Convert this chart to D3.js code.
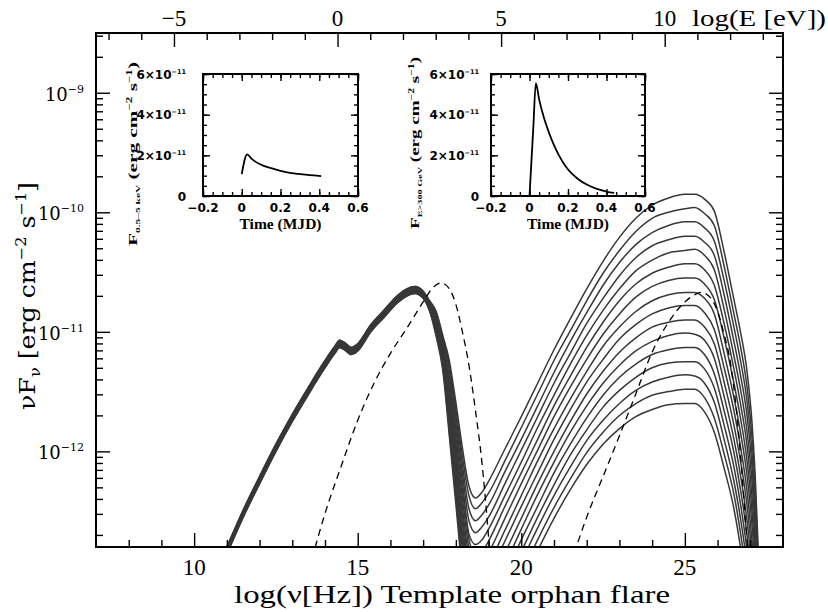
<!DOCTYPE html>
<html><head><meta charset="utf-8">
<script src="https://cdn.jsdelivr.net/npm/d3@7"></script>
<style>body{margin:0;background:#fff}svg{display:block}</style>
</head><body>
<svg id="c" width="828" height="612"></svg>
<script>
// ---------------- data ----------------
// shared log10(nu/Hz) grid for the 16 SED snapshots
const logNu = [11.0,11.5,12.0,12.5,13.0,13.5,14.0,14.3,14.45,14.6,14.8,15.0,15.4,15.8,16.2,16.5,16.75,17.0,
  17.2,17.4,17.6,17.8,18.0,18.2,18.4,18.6,18.8,19.0,
  19.5,20.0,20.5,21.0,21.5,22.0,22.5,23.0,23.5,24.0,24.5,25.0,25.3,25.6,25.9,26.2,26.5,26.7,26.9,27.05,27.15,27.3];
// log10(nuF_nu) of each snapshot (erg cm^-2 s^-1), brightest IC first
const sedFlux = [
 [-12.80,-12.49,-12.21,-11.94,-11.69,-11.46,-11.24,-11.12,-11.07,-11.09,-11.13,-11.10,-10.94,-10.82,-10.70,-10.64,-10.62,-10.66,
  -10.74,-10.83,-11.03,-11.24,-11.59,-11.97,-12.29,-12.39,-12.34,-12.25,
  -11.98,-11.71,-11.43,-11.15,-10.89,-10.64,-10.41,-10.21,-10.05,-9.94,-9.88,-9.85,-9.85,-9.89,-9.99,-10.33,-10.73,-11.00,-11.33,-11.75,-12.20,-13.20],
 [-12.80,-12.49,-12.21,-11.94,-11.69,-11.46,-11.24,-11.12,-11.07,-11.09,-11.13,-11.10,-10.94,-10.82,-10.70,-10.64,-10.62,-10.66,
  -10.75,-10.84,-11.05,-11.28,-11.65,-12.04,-12.37,-12.48,-12.43,-12.35,
  -12.08,-11.80,-11.52,-11.24,-10.99,-10.74,-10.51,-10.32,-10.16,-10.05,-10.00,-9.97,-9.96,-10.01,-10.11,-10.45,-10.85,-11.12,-11.46,-11.87,-12.31,-13.28],
 [-12.81,-12.50,-12.22,-11.95,-11.70,-11.47,-11.25,-11.13,-11.08,-11.10,-11.14,-11.11,-10.95,-10.83,-10.71,-10.65,-10.63,-10.67,
  -10.75,-10.86,-11.07,-11.32,-11.70,-12.11,-12.48,-12.58,-12.53,-12.45,
  -12.17,-11.90,-11.62,-11.34,-11.08,-10.84,-10.61,-10.42,-10.27,-10.17,-10.11,-10.08,-10.08,-10.13,-10.24,-10.57,-10.96,-11.24,-11.58,-12.00,-12.43,-13.36],
 [-12.81,-12.50,-12.22,-11.95,-11.70,-11.47,-11.25,-11.13,-11.08,-11.10,-11.14,-11.11,-10.95,-10.83,-10.71,-10.65,-10.63,-10.67,
  -10.76,-10.87,-11.09,-11.37,-11.76,-12.18,-12.58,-12.68,-12.63,-12.55,
  -12.27,-11.99,-11.71,-11.43,-11.18,-10.93,-10.72,-10.53,-10.38,-10.28,-10.23,-10.20,-10.20,-10.25,-10.36,-10.69,-11.08,-11.36,-11.70,-12.12,-12.54,-13.44],
 [-12.82,-12.51,-12.23,-11.96,-11.71,-11.48,-11.26,-11.14,-11.09,-11.11,-11.15,-11.12,-10.96,-10.84,-10.72,-10.66,-10.64,-10.68,
  -10.76,-10.89,-11.11,-11.41,-11.81,-12.26,-12.69,-12.78,-12.74,-12.65,
  -12.37,-12.09,-11.80,-11.53,-11.27,-11.03,-10.82,-10.64,-10.49,-10.40,-10.34,-10.32,-10.31,-10.36,-10.48,-10.81,-11.20,-11.48,-11.83,-12.24,-12.65,-13.52],
 [-12.82,-12.51,-12.23,-11.96,-11.71,-11.48,-11.26,-11.14,-11.09,-11.11,-11.15,-11.12,-10.96,-10.84,-10.72,-10.66,-10.64,-10.68,
  -10.77,-10.90,-11.13,-11.45,-11.88,-12.32,-12.73,-12.88,-12.84,-12.75,
  -12.46,-12.18,-11.90,-11.62,-11.37,-11.13,-10.92,-10.74,-10.60,-10.51,-10.46,-10.43,-10.43,-10.48,-10.61,-10.93,-11.31,-11.60,-11.95,-12.37,-12.77,-13.60],
 [-12.82,-12.51,-12.23,-11.96,-11.71,-11.48,-11.26,-11.14,-11.09,-11.11,-11.15,-11.12,-10.96,-10.84,-10.72,-10.66,-10.64,-10.68,
  -10.78,-10.91,-11.15,-11.49,-11.94,-12.39,-12.81,-12.98,-12.94,-12.85,
  -12.56,-12.27,-11.99,-11.71,-11.46,-11.23,-11.02,-10.85,-10.71,-10.62,-10.57,-10.55,-10.55,-10.60,-10.73,-11.05,-11.43,-11.72,-12.08,-12.49,-12.88,-13.68],
 [-12.83,-12.52,-12.24,-11.97,-11.72,-11.49,-11.27,-11.15,-11.10,-11.12,-11.16,-11.13,-10.97,-10.85,-10.73,-10.67,-10.65,-10.69,
  -10.78,-10.93,-11.17,-11.53,-11.99,-12.47,-12.89,-13.07,-13.05,-12.95,
  -12.66,-12.37,-12.08,-11.81,-11.56,-11.33,-11.12,-10.96,-10.83,-10.74,-10.69,-10.67,-10.67,-10.72,-10.85,-11.18,-11.55,-11.84,-12.20,-12.61,-12.99,-13.76],
 [-12.83,-12.52,-12.24,-11.97,-11.72,-11.49,-11.27,-11.15,-11.10,-11.12,-11.16,-11.13,-10.97,-10.85,-10.73,-10.67,-10.65,-10.69,
  -10.79,-10.94,-11.19,-11.58,-12.05,-12.53,-12.98,-13.17,-13.15,-13.05,
  -12.75,-12.46,-12.18,-11.90,-11.65,-11.42,-11.23,-11.06,-10.94,-10.85,-10.80,-10.78,-10.78,-10.84,-10.98,-11.30,-11.66,-11.96,-12.33,-12.74,-13.11,-13.84],
 [-12.84,-12.53,-12.25,-11.98,-11.73,-11.50,-11.28,-11.16,-11.11,-11.13,-11.17,-11.14,-10.98,-10.86,-10.74,-10.68,-10.66,-10.70,
  -10.79,-10.96,-11.20,-11.62,-12.10,-12.60,-13.06,-13.27,-13.25,-13.15,
  -12.85,-12.56,-12.27,-12.00,-11.75,-11.52,-11.33,-11.17,-11.05,-10.96,-10.92,-10.90,-10.90,-10.96,-11.10,-11.42,-11.78,-12.08,-12.45,-12.86,-13.22,-13.92],
 [-12.84,-12.53,-12.25,-11.98,-11.73,-11.50,-11.28,-11.16,-11.11,-11.13,-11.17,-11.14,-10.98,-10.86,-10.74,-10.68,-10.66,-10.70,
  -10.80,-10.97,-11.22,-11.66,-12.16,-12.68,-13.14,-13.37,-13.35,-13.25,
  -12.95,-12.65,-12.36,-12.09,-11.84,-11.62,-11.43,-11.28,-11.16,-11.08,-11.03,-11.01,-11.02,-11.07,-11.22,-11.54,-11.90,-12.20,-12.58,-12.98,-13.33,-14.00],
 [-12.84,-12.53,-12.25,-11.98,-11.73,-11.50,-11.28,-11.16,-11.11,-11.13,-11.17,-11.14,-10.98,-10.86,-10.74,-10.68,-10.66,-10.70,
  -10.81,-10.98,-11.24,-11.70,-12.22,-12.74,-13.23,-13.47,-13.45,-13.35,
  -13.04,-12.74,-12.46,-12.18,-11.94,-11.72,-11.53,-11.38,-11.27,-11.19,-11.15,-11.13,-11.13,-11.19,-11.35,-11.66,-12.01,-12.32,-12.70,-13.11,-13.45,-14.10],
 [-12.85,-12.54,-12.26,-11.99,-11.74,-11.51,-11.29,-11.17,-11.12,-11.14,-11.18,-11.15,-10.99,-10.87,-10.75,-10.69,-10.67,-10.71,
  -10.81,-11.00,-11.26,-11.74,-12.27,-12.82,-13.31,-13.58,-13.56,-13.45,
  -13.14,-12.84,-12.55,-12.28,-12.03,-11.82,-11.63,-11.49,-11.38,-11.30,-11.26,-11.25,-11.25,-11.31,-11.47,-11.78,-12.13,-12.44,-12.83,-13.23,-13.56,-14.16],
 [-12.85,-12.54,-12.26,-11.99,-11.74,-11.51,-11.29,-11.17,-11.12,-11.14,-11.18,-11.15,-10.99,-10.87,-10.75,-10.69,-10.67,-10.71,
  -10.82,-11.01,-11.28,-11.79,-12.33,-12.90,-13.39,-13.68,-13.66,-13.55,
  -13.24,-12.93,-12.64,-12.37,-12.13,-11.91,-11.74,-11.60,-11.49,-11.42,-11.38,-11.36,-11.37,-11.43,-11.59,-11.90,-12.25,-12.56,-12.95,-13.35,-13.67,-14.24],
 [-12.86,-12.55,-12.27,-12.00,-11.75,-11.52,-11.30,-11.18,-11.13,-11.15,-11.19,-11.16,-11.00,-10.88,-10.76,-10.70,-10.68,-10.72,
  -10.82,-11.03,-11.30,-11.83,-12.39,-12.96,-13.48,-13.80,-13.76,-13.65,
  -13.33,-13.03,-12.74,-12.47,-12.23,-12.01,-11.84,-11.70,-11.60,-11.53,-11.50,-11.48,-11.48,-11.55,-11.72,-12.02,-12.36,-12.68,-13.08,-13.48,-13.79,-14.32],
 [-12.86,-12.55,-12.27,-12.00,-11.75,-11.52,-11.30,-11.18,-11.13,-11.15,-11.19,-11.16,-11.00,-10.88,-10.76,-10.70,-10.68,-10.72,
  -10.83,-11.04,-11.32,-11.87,-12.44,-13.03,-13.55,-13.90,-13.86,-13.75,
  -13.43,-13.12,-12.83,-12.56,-12.32,-12.11,-11.94,-11.81,-11.71,-11.65,-11.61,-11.60,-11.60,-11.67,-11.84,-12.14,-12.48,-12.80,-13.20,-13.60,-13.90,-14.40]
];
// dashed reference SED (quiescent state)
const dashSyncNu   = [13.6,14.0,14.5,15.0,15.5,16.0,16.5,17.0,17.3,17.55,17.8,18.0,18.2,18.4,18.6,18.8,18.95,19.05];
const dashSyncFlux = [-12.9,-12.52,-12.12,-11.74,-11.43,-11.18,-10.97,-10.75,-10.63,-10.59,-10.64,-10.77,-11.0,-11.28,-11.66,-12.1,-12.55,-12.9];
const dashIcNu     = [21.5,22.0,22.5,23.0,23.5,24.0,24.5,25.0,25.3,25.5,25.8,26.0,26.2,26.4,26.6,26.75,26.9,27.0];
const dashIcFlux   = [-12.95,-12.55,-12.21,-11.87,-11.52,-11.17,-10.92,-10.75,-10.69,-10.67,-10.72,-10.83,-11.02,-11.27,-11.72,-12.2,-12.75,-13.1];
// light curves (flux in units of 1e-11 erg cm^-2 s^-1)
const xrayTime = [0,0.028,0.05,0.07,0.113,0.156,0.2,0.242,0.29,0.328,0.37,0.41];
const xrayFlux = [1.08,2.05,1.84,1.69,1.48,1.36,1.24,1.15,1.09,1.05,1.01,0.98];
const vheTime  = [0,0.01,0.02,0.033,0.05,0.075,0.1,0.125,0.15,0.2,0.25,0.3,0.35,0.4,0.44];
const vheFlux  = [0,1.7,3.4,5.55,4.75,3.85,3.15,2.55,2.05,1.3,0.85,0.55,0.35,0.22,0.15];
// tick labels
const xTickVals = [10,15,20,25], xTickLabels = ['10','15','20','25'];
const eTickVals = [-5,0,5,10],   eTickLabels = ['\u22125','0','5','10'];
const yTickExps = [-12,-11,-10,-9], yTickLabels = ['\u221212','\u221211','\u221210','\u22129'];
const insetXTicks = [-0.2,0,0.2,0.4,0.6], insetXLabels = ['\u22120.2','0','0.2','0.4','0.6'];
const insetYTicks = [0,2,4,6], insetYLabels = ['0','2','4','6'];
const LOG_H_EV = 14.3834; // log10(nu/Hz) - log10(E/eV)

// ---------------- drawing ----------------
const svg = d3.select('#c');
const L=96, R=783, T=33, B=547;
const x = d3.scaleLinear().domain([7,28]).range([L,R]);
const xE = d3.scaleLinear().domain([7-LOG_H_EV, 28-LOG_H_EV]).range([L,R]);
const y = d3.scaleLog().domain([Math.pow(10,-12.8), Math.pow(10,-8.5)]).range([B,T]);

svg.append('defs').append('clipPath').attr('id','plotclip')
  .append('rect').attr('x',L).attr('y',T).attr('width',R-L).attr('height',B-T);

const plot = svg.append('g').attr('clip-path','url(#plotclip)');
const line = d3.line().x(d=>x(d[0])).y(d=>y(Math.pow(10,d[1]))).curve(d3.curveMonotoneX);

sedFlux.forEach(row=>{
  plot.append('path').attr('d', line(logNu.map((n,i)=>[n,row[i]])))
    .attr('fill','none').attr('stroke','#383838').attr('stroke-width',1.5);
});
[[dashSyncNu,dashSyncFlux],[dashIcNu,dashIcFlux]].forEach(([xs,ys])=>{
  plot.append('path').attr('d', line(xs.map((n,i)=>[n,ys[i]])))
    .attr('fill','none').attr('stroke','#000').attr('stroke-width',1.3).attr('stroke-dasharray','7,5');
});

// axes (ticks pointing inward)
function clean(g){ g.select('.domain').remove(); g.selectAll('line').attr('stroke','#000').attr('stroke-width',1.4); }
const intTicks = d3.range(8,28).filter(v=>v%5!==0);
svg.append('g').attr('transform',`translate(0,${B})`).call(d3.axisBottom(x).tickValues(intTicks).tickSize(-7).tickFormat('')).call(clean);
svg.append('g').attr('transform',`translate(0,${B})`).call(d3.axisBottom(x).tickValues(xTickVals).tickSize(-14).tickFormat('')).call(clean);
const eMinor = d3.range(-7,14).filter(v=>v%5!==0);
svg.append('g').attr('transform',`translate(0,${T})`).call(d3.axisTop(xE).tickValues(eMinor).tickSize(-7).tickFormat('')).call(clean);
svg.append('g').attr('transform',`translate(0,${T})`).call(d3.axisTop(xE).tickValues(eTickVals).tickSize(-14).tickFormat('')).call(clean);
const yMajor = yTickExps.map(e=>Math.pow(10,e));
const yMinor = [];
[-13,-12,-11,-10,-9].forEach(e=>{ for(let m=2;m<=9;m++){ const v=m*Math.pow(10,e); if(v>=y.domain()[0]&&v<=y.domain()[1]) yMinor.push(v);} });
[[d3.axisLeft,L],[d3.axisRight,R]].forEach(([ax,pos])=>{
  svg.append('g').attr('transform',`translate(${pos},0)`).call(ax(y).tickValues(yMinor).tickSize(-7).tickFormat('')).call(clean);
  svg.append('g').attr('transform',`translate(${pos},0)`).call(ax(y).tickValues(yMajor).tickSize(-14).tickFormat('')).call(clean);
});
svg.append('rect').attr('x',L).attr('y',T).attr('width',R-L).attr('height',B-T)
  .attr('fill','none').attr('stroke','#000').attr('stroke-width',2);

// tick labels
const serif = 'Liberation Serif';
xTickVals.forEach((v,i)=>svg.append('text').attr('x',x(v)).attr('y',575).attr('text-anchor','middle')
  .attr('font-family',serif).attr('font-size',23).text(xTickLabels[i]));
eTickVals.forEach((v,i)=>svg.append('text').attr('x',xE(v)).attr('y',26).attr('text-anchor','middle')
  .attr('font-family',serif).attr('font-size',23).text(eTickLabels[i]));
svg.append('text').attr('x',692).attr('y',26).attr('font-family',serif).attr('font-size',23)
  .attr('textLength',134).attr('lengthAdjust','spacingAndGlyphs').text('log(E [eV])');
yMajor.forEach((v,i)=>{
  const t = svg.append('text').attr('x',84).attr('y',y(v)+8).attr('text-anchor','end')
    .attr('font-family','DejaVu Serif').attr('font-size',18);
  t.append('tspan').text('10');
  t.append('tspan').attr('dy',-8).attr('font-size',11).text(yTickLabels[i]);
});
// axis titles
svg.append('text').attr('x',452).attr('y',603).attr('text-anchor','middle')
  .attr('font-family',serif).attr('font-size',25).attr('textLength',436).attr('lengthAdjust','spacingAndGlyphs')
  .text('log(\u03bd[Hz]) Template orphan flare');
{
  const t = svg.append('text').attr('transform','translate(35,296) rotate(-90)').attr('text-anchor','middle')
    .attr('font-family','DejaVu Serif').attr('font-size',22).attr('textLength',228).attr('lengthAdjust','spacingAndGlyphs');
  t.append('tspan').text('\u03bdF');
  t.append('tspan').attr('dy',5).attr('font-size',14).text('\u03bd');
  t.append('tspan').attr('dy',-5).text(' [erg cm');
  t.append('tspan').attr('dy',-9).attr('font-size',14).text('\u22122');
  t.append('tspan').attr('dy',9).text(' s');
  t.append('tspan').attr('dy',-9).attr('font-size',14).text('\u22121');
  t.append('tspan').attr('dy',9).text(']');
}

// ---------------- insets ----------------
function inset(opt){
  const ix = d3.scaleLinear().domain([-0.2,0.6]).range([opt.x0,opt.x1]);
  const iy = d3.scaleLinear().domain([0,6]).range([196,74]);
  const g = svg.append('g');
  const xMin = d3.range(-0.2,0.6001,0.05), yMin = d3.range(0,6.001,0.5);
  g.append('g').attr('transform','translate(0,196)').call(d3.axisBottom(ix).tickValues(xMin).tickSize(-4).tickFormat('')).call(clean);
  g.append('g').attr('transform','translate(0,196)').call(d3.axisBottom(ix).tickValues(insetXTicks).tickSize(-7).tickFormat('')).call(clean);
  g.append('g').attr('transform','translate(0,74)').call(d3.axisTop(ix).tickValues(xMin).tickSize(-4).tickFormat('')).call(clean);
  g.append('g').attr('transform','translate(0,74)').call(d3.axisTop(ix).tickValues(insetXTicks).tickSize(-7).tickFormat('')).call(clean);
  g.append('g').attr('transform',`translate(${opt.x0},0)`).call(d3.axisLeft(iy).tickValues(yMin).tickSize(-4).tickFormat('')).call(clean);
  g.append('g').attr('transform',`translate(${opt.x0},0)`).call(d3.axisLeft(iy).tickValues(insetYTicks).tickSize(-7).tickFormat('')).call(clean);
  g.append('g').attr('transform',`translate(${opt.x1},0)`).call(d3.axisRight(iy).tickValues(yMin).tickSize(-4).tickFormat('')).call(clean);
  g.append('g').attr('transform',`translate(${opt.x1},0)`).call(d3.axisRight(iy).tickValues(insetYTicks).tickSize(-7).tickFormat('')).call(clean);
  g.append('rect').attr('x',opt.x0).attr('y',74).attr('width',opt.x1-opt.x0).attr('height',122)
    .attr('fill','none').attr('stroke','#000').attr('stroke-width',2);
  const l = d3.line().x((d,i)=>ix(opt.t[i])).y(d=>iy(d)).curve(d3.curveMonotoneX);
  g.append('path').attr('d',l(opt.f)).attr('fill','none').attr('stroke','#000').attr('stroke-width',1.8);
  insetXTicks.forEach((v,i)=>g.append('text').attr('x',ix(v)).attr('y',212).attr('text-anchor','middle')
    .attr('font-family','DejaVu Sans').attr('font-weight','bold').attr('font-size',12).text(insetXLabels[i]));
  insetYTicks.forEach((v,i)=>{
    const t = g.append('text').attr('x',opt.labRight).attr('y',iy(v)+4.5).attr('text-anchor','end')
      .attr('font-family','DejaVu Sans').attr('font-weight','bold').attr('font-size',12);
    if(v===0){ t.text('0'); }
    else { t.append('tspan').text(insetYLabels[i]+'\u00d710'); t.append('tspan').attr('dy',-5).attr('font-size',6.5).text('\u221211'); }
  });
  g.append('text').attr('x',(opt.x0+opt.x1)/2).attr('y',229).attr('text-anchor','middle')
    .attr('font-family',serif).attr('font-weight','bold').attr('font-size',14).attr('textLength',82).attr('lengthAdjust','spacingAndGlyphs')
    .text('Time (MJD)');
  const tt = g.append('text').attr('transform',`translate(${opt.titleX},${opt.titleY}) rotate(-90)`).attr('text-anchor','middle')
    .attr('font-family',serif).attr('font-weight','bold').attr('font-size',13)
    .attr('textLength',opt.titleLen).attr('lengthAdjust','spacingAndGlyphs');
  tt.append('tspan').text('F');
  tt.append('tspan').attr('dy',3).attr('font-size',7).text(opt.sub);
  tt.append('tspan').attr('dy',-3).text(' (erg cm');
  tt.append('tspan').attr('dy',-5).attr('font-size',8).text('\u22122');
  tt.append('tspan').attr('dy',5).text(' s');
  tt.append('tspan').attr('dy',-5).attr('font-size',8).text('\u22121');
  tt.append('tspan').attr('dy',5).text(')');
}
inset({x0:203,x1:358,labRight:186,titleX:137,titleY:154,titleLen:184,t:xrayTime,f:xrayFlux,sub:'0.5\u20135 keV'});
inset({x0:491,x1:645,labRight:479,titleX:419,titleY:143,titleLen:172,t:vheTime,f:vheFlux,sub:'E>300 GeV'});
</script>
</body></html>
